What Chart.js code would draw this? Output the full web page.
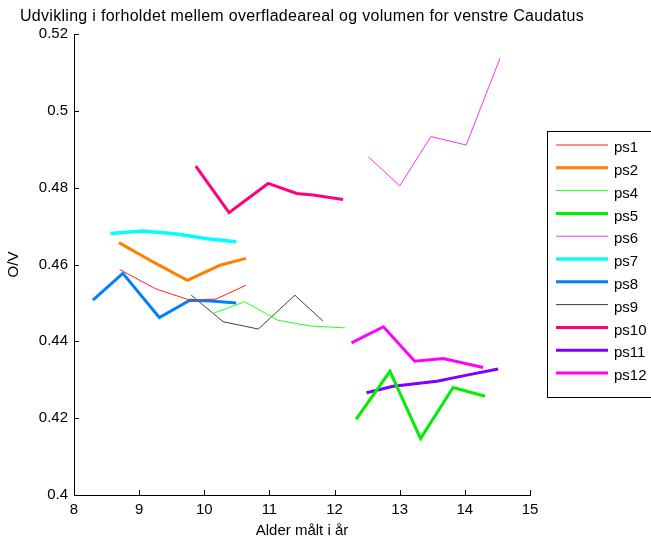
<!DOCTYPE html>
<html lang="da">
<head>
    <meta charset="UTF-8">
    <title>Udvikling i forholdet mellem overfladeareal og volumen</title>
    <script src="https://cdn.jsdelivr.net/npm/chart.js"></script>
    <style>
        html, body { margin: 0; padding: 0; background: #fff; }
        #wrap { width: 651px; height: 542px; position: relative; }
    </style>
</head>
<body>
    <div id="wrap"><canvas id="ovChart"></canvas></div>

    <script>
        // Ages (years) and O/V values, one pair of arrays per subject
        const agePs1 = [8.70, 9.25, 9.78, 10.18, 10.64];
        const valPs1 = [0.4587, 0.4537, 0.4507, 0.4510, 0.4546];

        const agePs2 = [8.69, 9.22, 9.74, 10.24, 10.64];
        const valPs2 = [0.4657, 0.4606, 0.4559, 0.4598, 0.4616];

        const agePs4 = [10.14, 10.62, 11.13, 11.62, 12.16];
        const valPs4 = [0.4473, 0.4503, 0.4455, 0.4440, 0.4435];

        const agePs5 = [12.33, 12.85, 13.32, 13.82, 14.31];
        const valPs5 = [0.4197, 0.4322, 0.4147, 0.4280, 0.4257];

        const agePs6 = [12.52, 13.00, 13.48, 14.02, 14.54];
        const valPs6 = [0.4880, 0.4805, 0.4933, 0.4911, 0.5137];

        const agePs7 = [8.56, 9.05, 9.55, 10.05, 10.49];
        const valPs7 = [0.4681, 0.4687, 0.4680, 0.4667, 0.4659];

        const agePs8 = [8.29, 8.75, 9.31, 9.78, 10.10, 10.49];
        const valPs8 = [0.4507, 0.4577, 0.4462, 0.4507, 0.4505, 0.4500];

        const agePs9 = [9.80, 10.29, 10.83, 11.39, 11.82];
        const valPs9 = [0.4520, 0.4451, 0.4432, 0.4520, 0.4453];

        const agePs10 = [9.87, 10.38, 10.98, 11.42, 11.67, 12.13];
        const valPs10 = [0.4856, 0.4735, 0.4811, 0.4785, 0.4781, 0.4769];

        const agePs11 = [12.49, 12.90, 13.57, 14.03, 14.51];
        const valPs11 = [0.4266, 0.4283, 0.4296, 0.4312, 0.4328];

        const agePs12 = [12.26, 12.75, 13.23, 13.67, 14.28];
        const valPs12 = [0.4396, 0.4438, 0.4348, 0.4355, 0.4332];

        const seriesNames = ['ps1', 'ps2', 'ps4', 'ps5', 'ps6', 'ps7', 'ps8', 'ps9', 'ps10', 'ps11', 'ps12'];
        const seriesAges = [agePs1, agePs2, agePs4, agePs5, agePs6, agePs7, agePs8, agePs9, agePs10, agePs11, agePs12];
        const seriesVals = [valPs1, valPs2, valPs4, valPs5, valPs6, valPs7, valPs8, valPs9, valPs10, valPs11, valPs12];

        const xTicks = [8, 9, 10, 11, 12, 13, 14, 15];
        const yTicks = [0.4, 0.42, 0.44, 0.46, 0.48, 0.5, 0.52];

        // line look per series
        const colors = ['#ff2020', '#ff8000', '#20ff20', '#00ee00', '#ff30ff', '#00ffff',
                        '#0080ff', '#404040', '#ff0080', '#8000ff', '#ff00ff'];
        const widths = [1, 3, 1, 3, 1, 3.5, 3, 1, 3, 3, 3];

        const FONT = 'Liberation Sans, Arial, sans-serif';

        const datasets = seriesNames.map((name, i) => ({
            label: name,
            data: seriesAges[i].map((a, j) => ({ x: a, y: seriesVals[i][j] })),
            borderColor: colors[i],
            backgroundColor: colors[i],
            borderWidth: widths[i],
            pointRadius: 0,
            tension: 0,
            fill: false
        }));

        // title, inward ticks and boxed legend, drawn the way the original plot shows them
        const decorations = {
            id: 'decorations',
            afterDraw(chart) {
                const ctx = chart.ctx;
                const area = chart.chartArea;
                const xs = chart.scales.x, ys = chart.scales.y;
                ctx.save();

                // title centred over the axes
                ctx.fillStyle = '#000';
                ctx.font = '16px ' + FONT;
                ctx.letterSpacing = '0.3px';
                ctx.textAlign = 'center';
                ctx.textBaseline = 'alphabetic';
                ctx.fillText('Udvikling i forholdet mellem overfladeareal og volumen for venstre Caudatus',
                    (area.left + area.right) / 2, 21);
                ctx.letterSpacing = '0px';

                // ticks pointing into the plot
                ctx.strokeStyle = '#000';
                ctx.lineWidth = 1;
                ctx.beginPath();
                xTicks.forEach(v => {
                    const px = Math.round(xs.getPixelForValue(v)) + 0.5;
                    ctx.moveTo(px, area.bottom);
                    ctx.lineTo(px, area.bottom - 5);
                });
                yTicks.forEach(v => {
                    const py = Math.round(ys.getPixelForValue(v)) + 0.5;
                    ctx.moveTo(area.left, py);
                    ctx.lineTo(area.left + 5, py);
                });
                ctx.stroke();

                // legend box
                const bx = 547.5, by = 131.5, bw = 110, bh = 266;
                ctx.fillStyle = '#fff';
                ctx.fillRect(bx, by, bw, bh);
                ctx.strokeStyle = '#000';
                ctx.strokeRect(bx, by, bw, bh);
                ctx.font = '15px ' + FONT;
                ctx.textAlign = 'left';
                ctx.textBaseline = 'middle';
                chart.data.datasets.forEach((ds, i) => {
                    const ly = 145 + i * 22.8;
                    ctx.strokeStyle = ds.borderColor;
                    ctx.lineWidth = ds.borderWidth;
                    ctx.beginPath();
                    ctx.moveTo(556, ly);
                    ctx.lineTo(608, ly);
                    ctx.stroke();
                    ctx.fillStyle = '#000';
                    ctx.fillText(ds.label, 614, ly + 3);
                });
                ctx.restore();
            }
        };

        new Chart(document.getElementById('ovChart'), {
            type: 'line',
            data: { datasets: datasets },
            options: {
                responsive: true,
                maintainAspectRatio: false,
                animation: false,
                layout: { padding: { left: 0, top: 34, right: 121, bottom: 0 } },
                plugins: {
                    legend: { display: false },
                    title: { display: false },
                    tooltip: { enabled: false }
                },
                scales: {
                    x: {
                        type: 'linear',
                        min: 8,
                        max: 15,
                        afterBuildTicks: s => { s.ticks = xTicks.map(v => ({ value: v })); },
                        afterFit: s => { s.height = 47; },
                        grid: { display: false, drawTicks: false },
                        border: { display: true, color: '#000', width: 1 },
                        ticks: { color: '#000', font: { family: FONT, size: 15 }, padding: 6, maxRotation: 0 },
                        title: { display: true, text: 'Alder målt i år', color: '#000',
                                 font: { family: FONT, size: 15 }, padding: { top: 0, bottom: 2 } }
                    },
                    y: {
                        type: 'linear',
                        min: 0.4,
                        max: 0.52,
                        afterBuildTicks: s => { s.ticks = yTicks.map(v => ({ value: v })); },
                        afterFit: s => { s.width = 74; },
                        grid: { display: false, drawTicks: false },
                        border: { display: true, color: '#000', width: 1 },
                        ticks: { color: '#000', font: { family: FONT, size: 15 }, padding: 6,
                                 callback: v => String(+v.toFixed(2)) },
                        title: { display: true, text: 'O/V', color: '#000',
                                 font: { family: FONT, size: 15 }, padding: { top: 5, bottom: 0 } }
                    }
                }
            },
            plugins: [decorations]
        });
    </script>
</body>
</html>
